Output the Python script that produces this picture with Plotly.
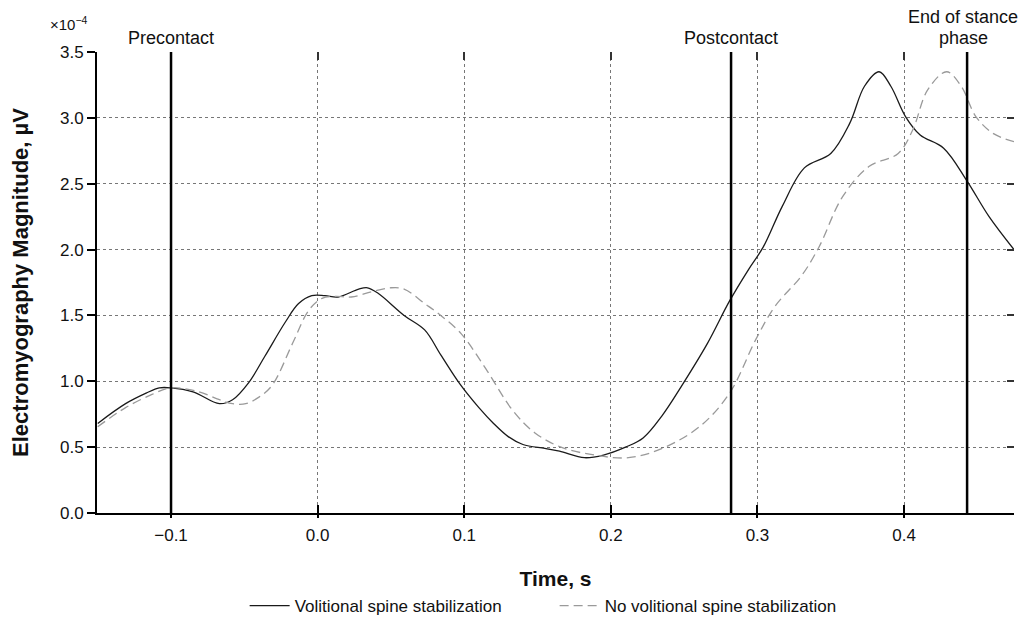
import plotly.graph_objects as go

# Data (EMG magnitude in units of 1e-4 µV)
t_vol = [-0.150, -0.131, -0.117, -0.108, -0.100, -0.085, -0.067, -0.058, -0.047, -0.036,
         -0.022, -0.013, -0.004, 0.005, 0.014, 0.028, 0.034, 0.041, 0.059, 0.073,
         0.084, 0.097, 0.110, 0.120, 0.130, 0.140, 0.155, 0.165, 0.182, 0.195,
         0.210, 0.222, 0.235, 0.248, 0.266, 0.281, 0.294, 0.304, 0.317, 0.332,
         0.350, 0.363, 0.373, 0.383, 0.391, 0.401, 0.411, 0.427, 0.443, 0.458, 0.475]
emg_vol = [0.68, 0.83, 0.91, 0.95, 0.95, 0.92, 0.83, 0.86, 0.99, 1.19,
           1.45, 1.59, 1.65, 1.65, 1.64, 1.70, 1.71, 1.67, 1.50, 1.39,
           1.20, 0.98, 0.80, 0.68, 0.58, 0.52, 0.49, 0.47, 0.42, 0.44,
           0.50, 0.57, 0.74, 0.96, 1.29, 1.61, 1.85, 2.02, 2.33, 2.62,
           2.73, 2.96, 3.24, 3.35, 3.24, 3.01, 2.87, 2.77, 2.52, 2.25, 2.00]

t_novol = [-0.150, -0.131, -0.113, -0.100, -0.081, -0.067, -0.058, -0.049, -0.040, -0.031,
           -0.017, -0.006, 0.003, 0.012, 0.023, 0.037, 0.050, 0.059, 0.073, 0.084,
           0.098, 0.115, 0.133, 0.148, 0.166, 0.189, 0.212, 0.235, 0.261, 0.281,
           0.299, 0.312, 0.330, 0.342, 0.358, 0.376, 0.396, 0.406, 0.416, 0.429,
           0.439, 0.449, 0.461, 0.475]
emg_novol = [0.655, 0.80, 0.90, 0.95, 0.92, 0.86, 0.83, 0.83, 0.88, 0.97,
             1.29, 1.54, 1.63, 1.645, 1.64, 1.68, 1.71, 1.70, 1.59, 1.50,
             1.36, 1.09, 0.78, 0.61, 0.50, 0.44, 0.42, 0.49, 0.66, 0.91,
             1.32, 1.57, 1.80, 2.02, 2.40, 2.63, 2.73, 2.91, 3.21, 3.35,
             3.24, 3.01, 2.88, 2.82]

event_times = [-0.100, 0.282, 0.443]
event_labels = ["Precontact", "Postcontact", "End of stance<br>phase"]

x_ticks = [-0.1, 0.0, 0.1, 0.2, 0.3, 0.4]
x_ticklabels = ["\u22120.1", "0.0", "0.1", "0.2", "0.3", "0.4"]
y_ticks = [0.0, 0.5, 1.0, 1.5, 2.0, 2.5, 3.0, 3.5]

x_range = [-0.1505, 0.475]
y_range = [0.0, 3.5]

FONT = "Liberation Sans, Arial, sans-serif"

fig = go.Figure()
fig.add_trace(go.Scatter(x=t_vol, y=emg_vol, mode="lines", name="Volitional spine stabilization",
                         line=dict(color="#1a1a1a", width=1.3, shape="spline", smoothing=1.0)))
fig.add_trace(go.Scatter(x=t_novol, y=emg_novol, mode="lines", name="No volitional spine stabilization",
                         line=dict(color="#9a9a9a", width=1.3, dash="9px,5px", shape="spline", smoothing=1.0)))

for t, lab in zip(event_times, event_labels):
    fig.add_shape(type="line", x0=t, x1=t, y0=0, y1=1, xref="x", yref="paper",
                  line=dict(color="black", width=2.5))
    lines = lab.split("<br>")
    n = len(lines)
    for i, ln in enumerate(lines):
        # line i counted from the top; last line sits just above the plot
        ypos = 1.031 + 0.045 * (n - 1 - i)
        fig.add_annotation(x=t - (0.0025 if n > 1 else 0), y=ypos, xref="x", yref="paper", text=ln,
                           showarrow=False, yanchor="middle", borderpad=0,
                           font=dict(family=FONT, size=18, color="#111"))

fig.add_annotation(x=-0.008, y=1.061, xref="paper", yref="paper", text="\u00d710<sup>\u22124</sup>",
                   showarrow=False, xanchor="right", yanchor="middle",
                   font=dict(family=FONT, size=15, color="#111"))

fig.update_layout(
    width=1015, height=622,
    margin=dict(l=89, r=9, t=44, b=117, autoexpand=False),
    plot_bgcolor="white", paper_bgcolor="white",
    font=dict(family=FONT, size=17, color="#111"),
    showlegend=True,
    legend=dict(orientation="h", x=0.161, xanchor="left", y=-0.163, yanchor="top",
                font=dict(family=FONT, size=17, color="#111"), entrywidth=255,
                itemwidth=40, tracegroupgap=0),
    xaxis=dict(range=x_range, tickvals=x_ticks, ticktext=x_ticklabels, automargin=False,
               showline=True, linecolor="black", linewidth=2,
               ticks="inside", ticklen=8, tickwidth=1.5, tickcolor="black", ticklabelstandoff=6,
               showgrid=True, gridcolor="#777", griddash="dot", gridwidth=1,
               zeroline=False,
               title=dict(text="<b>Time, s</b>", font=dict(family=FONT, size=21, color="#111"), standoff=27),
               tickfont=dict(family=FONT, size=17)),
    yaxis=dict(range=y_range, tickvals=y_ticks, tickformat=".1f", automargin=False,
               showline=True, linecolor="black", linewidth=2,
               ticks="outside", ticklen=8, tickwidth=1.5, tickcolor="black",
               showgrid=True, gridcolor="#777", griddash="dot", gridwidth=1,
               zeroline=False,
               title=dict(text="<b>Electromyography Magnitude, \u00b5V</b>",
                          font=dict(family=FONT, size=22, color="#111"), standoff=32),
               tickfont=dict(family=FONT, size=17)),
    xaxis2=dict(range=x_range, tickvals=x_ticks, overlaying="x", side="top", anchor="y", automargin=False,
                showticklabels=False, ticks="inside", ticklen=8, tickwidth=1.5, tickcolor="#333",
                showgrid=False, showline=False, zeroline=False),
    xaxis3=dict(range=x_range, tickvals=x_ticks, overlaying="x", side="bottom", anchor="y", automargin=False,
                showticklabels=False, ticks="outside", ticklen=4, tickwidth=1.5, tickcolor="black",
                showgrid=False, showline=False, zeroline=False),
    yaxis2=dict(range=y_range, tickvals=y_ticks, overlaying="y", side="right", anchor="x", automargin=False,
                showticklabels=False, ticks="inside", ticklen=7, tickwidth=1.5, tickcolor="#333",
                showgrid=False, showline=False, zeroline=False),
)
# invisible helper traces that activate the overlay tick axes
fig.add_trace(go.Scatter(x=[x_range[0]], y=[0], xaxis="x2", yaxis="y2", mode="markers",
                         marker=dict(opacity=0), showlegend=False, hoverinfo="skip"))
fig.add_trace(go.Scatter(x=[x_range[0]], y=[0], xaxis="x3", yaxis="y", mode="markers",
                         marker=dict(opacity=0), showlegend=False, hoverinfo="skip"))

fig.write_html("out.html")
